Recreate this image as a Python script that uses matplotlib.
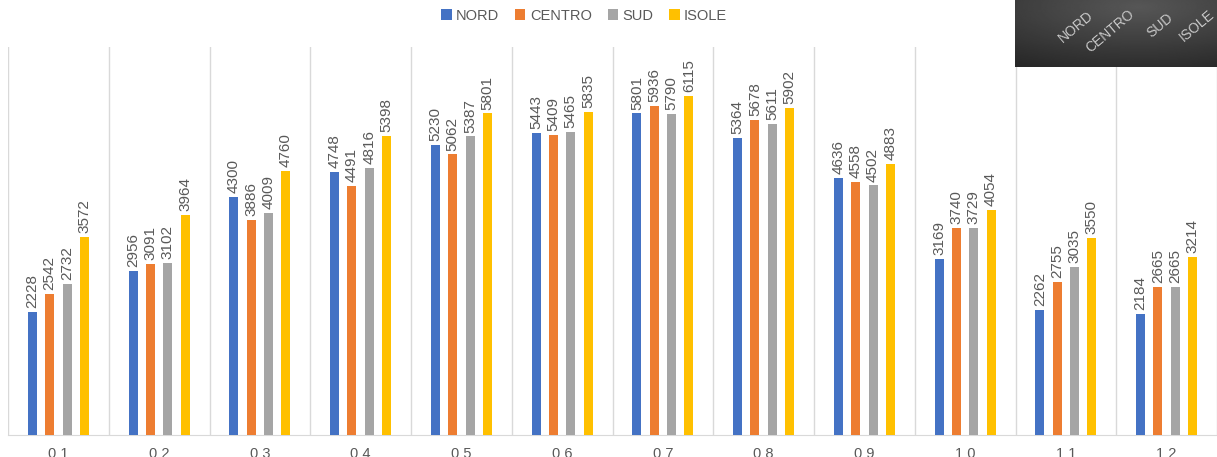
import matplotlib
matplotlib.use("Agg")
import matplotlib.pyplot as plt
import numpy as np

# Monthly values by area
months = ["01", "02", "03", "04", "05", "06", "07", "08", "09", "10", "11", "12"]
series = ["NORD", "CENTRO", "SUD", "ISOLE"]
nord = [2228, 2956, 4300, 4748, 5230, 5443, 5801, 5364, 4636, 3169, 2262, 2184]
centro = [2542, 3091, 3886, 4491, 5062, 5409, 5936, 5678, 4558, 3740, 2755, 2665]
sud = [2732, 3102, 4009, 4816, 5387, 5465, 5790, 5611, 4502, 3729, 3035, 2665]
isole = [3572, 3964, 4760, 5398, 5801, 5835, 6115, 5902, 4883, 4054, 3550, 3214]
colors = ["#4472C4", "#ED7D31", "#A5A5A5", "#FFC000"]

plt.rcParams["font.family"] = ["Liberation Sans", "DejaVu Sans"]
narrow = ["Liberation Sans Narrow", "Liberation Sans", "DejaVu Sans"]

W, H = 1217, 457
fig = plt.figure(figsize=(W / 100, H / 100), dpi=100)
ax = fig.add_axes([8 / W, 22 / H, 1 - 8 / W, 388 / H])

x = np.arange(len(months))
step = 0.172
width = 0.09
for i, (name, vals) in enumerate(zip(series, [nord, centro, sud, isole])):
    pos = x + (i - 1.5) * step
    bars = ax.bar(pos, vals, width, color=colors[i], label=name, zorder=3)
    # value labels above each bar
    for b, v in zip(bars, vals):
        ax.text(b.get_x() + b.get_width() / 2, v + 70, str(v), rotation=90,
                ha="center", va="bottom", fontsize=11, color="#595959",
                family=narrow)

ax.set_xlim(-0.5, len(months) - 0.5)
ax.set_ylim(0, 7000)
ax.set_yticks([])
ax.set_xticks(x)
ax.set_xticklabels([" ".join(m) for m in months], fontsize=10.5, color="#595959")
ax.tick_params(axis="x", length=0, pad=9)
for b in np.arange(-0.5, len(months) + 0.5, 1):
    ax.axvline(b, color="#D9D9D9", lw=1, zorder=1)
for s in ["top", "right", "left"]:
    ax.spines[s].set_visible(False)
ax.spines["bottom"].set_color("#D9D9D9")

fig.legend(loc="upper center", bbox_to_anchor=(0.48, 1.01), ncol=4, frameon=False,
           fontsize=10.5, handlelength=0.7, handleheight=0.7, handletextpad=0.3,
           columnspacing=1.1, labelcolor="#595959")

# dark overlay box top-right
bx = fig.add_axes([1015 / W, 1 - 67 / H, 202 / W, 67 / H])
gx = np.linspace(-1, 1, 200)
gy = np.linspace(-1, 1, 70)
gxx, gyy = np.meshgrid(gx, gy)
grad = 0.34 - 0.09 * np.sqrt((gxx * 0.9 - 0.2) ** 2 + (gyy + 0.8) ** 2)
bx.imshow(grad, cmap="gray", vmin=0, vmax=1, aspect="auto", extent=[0, 1, 0, 1])
bx.set_axis_off()
for lbl, px, py in [("NORD", 0.30, 0.60), ("CENTRO", 0.47, 0.53), ("SUD", 0.72, 0.62), ("ISOLE", 0.90, 0.62)]:
    bx.text(px, py, lbl, rotation=40, ha="center", va="center", fontsize=10,
            color="#C8C8C8", transform=bx.transAxes)

fig.savefig("out.png", dpi=100)
